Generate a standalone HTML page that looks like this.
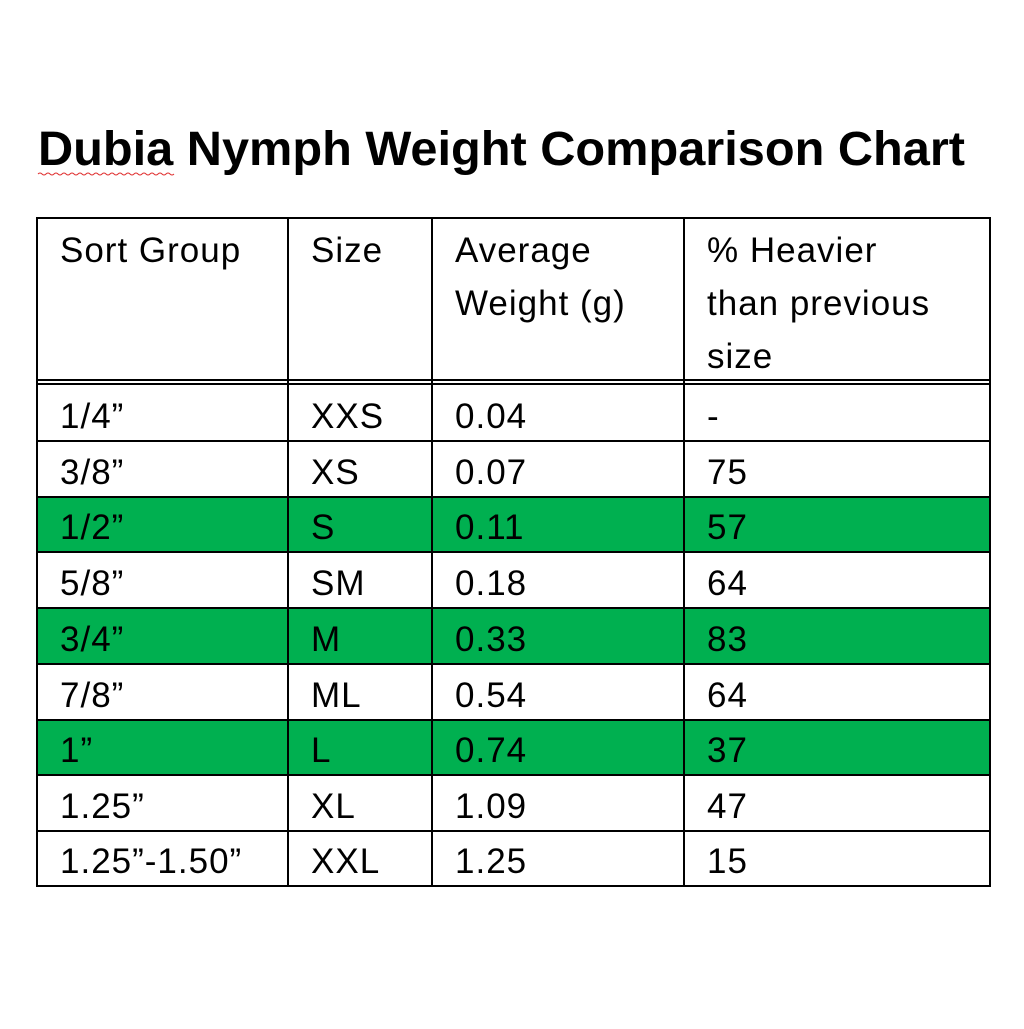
<!DOCTYPE html>
<html><head><meta charset="utf-8"><style>html,body{margin:0;padding:0;background:#fff}</style></head>
<body>
<svg width="1024" height="1024" xmlns="http://www.w3.org/2000/svg" font-family="Liberation Sans, sans-serif">
<rect width="1024" height="1024" fill="#fff"/>
<text x="38" y="165" font-size="48" font-weight="bold" textLength="927" lengthAdjust="spacingAndGlyphs">Dubia Nymph Weight Comparison Chart</text>
<path d="M38 174 q2 -2 4 0 t4 0 t4 0 t4 0 t4 0 t4 0 t4 0 t4 0 t4 0 t4 0 t4 0 t4 0 t4 0 t4 0 t4 0 t4 0 t4 0 t4 0 t4 0 t4 0 t4 0 t4 0 t4 0 t4 0 t4 0 t4 0 t4 0 t4 0 t4 0 t4 0 t4 0 t4 0 t4 0 t4 0" fill="none" stroke="#e03030" stroke-width="1"/>
<rect x="37" y="497" width="953" height="55" fill="#00B050"/>
<rect x="37" y="608" width="953" height="56" fill="#00B050"/>
<rect x="37" y="720" width="953" height="55" fill="#00B050"/>
<g stroke="#000" stroke-width="2">
<line x1="37" y1="218" x2="991" y2="218"/>
<line x1="37" y1="380" x2="991" y2="380"/>
<line x1="37" y1="384" x2="991" y2="384"/>
<line x1="37" y1="441" x2="991" y2="441"/>
<line x1="37" y1="497" x2="991" y2="497"/>
<line x1="37" y1="552" x2="991" y2="552"/>
<line x1="37" y1="608" x2="991" y2="608"/>
<line x1="37" y1="664" x2="991" y2="664"/>
<line x1="37" y1="720" x2="991" y2="720"/>
<line x1="37" y1="775" x2="991" y2="775"/>
<line x1="37" y1="831" x2="991" y2="831"/>
<line x1="37" y1="886" x2="991" y2="886"/>
<line x1="37" y1="217" x2="37" y2="887"/>
<line x1="288" y1="217" x2="288" y2="887"/>
<line x1="432" y1="217" x2="432" y2="887"/>
<line x1="684" y1="217" x2="684" y2="887"/>
<line x1="990" y1="217" x2="990" y2="887"/>
</g>
<g font-size="35" fill="#000" letter-spacing="1">
<text x="60" y="262">Sort Group</text>
<text x="311" y="262">Size</text>
<text x="455" y="262">Average</text>
<text x="455" y="315">Weight (g)</text>
<text x="707" y="262">% Heavier</text>
<text x="707" y="315">than previous</text>
<text x="707" y="368">size</text>

<text x="60" y="428">1/4”</text><text x="311" y="428">XXS</text><text x="455" y="428">0.04</text><text x="707" y="428">-</text>
<text x="60" y="484">3/8”</text><text x="311" y="484">XS</text><text x="455" y="484">0.07</text><text x="707" y="484">75</text>
<text x="60" y="539">1/2”</text><text x="311" y="539">S</text><text x="455" y="539">0.11</text><text x="707" y="539">57</text>
<text x="60" y="595">5/8”</text><text x="311" y="595">SM</text><text x="455" y="595">0.18</text><text x="707" y="595">64</text>
<text x="60" y="651">3/4”</text><text x="311" y="651">M</text><text x="455" y="651">0.33</text><text x="707" y="651">83</text>
<text x="60" y="707">7/8”</text><text x="311" y="707">ML</text><text x="455" y="707">0.54</text><text x="707" y="707">64</text>
<text x="60" y="762">1”</text><text x="311" y="762">L</text><text x="455" y="762">0.74</text><text x="707" y="762">37</text>
<text x="60" y="818">1.25”</text><text x="311" y="818">XL</text><text x="455" y="818">1.09</text><text x="707" y="818">47</text>
<text x="60" y="873">1.25”-1.50”</text><text x="311" y="873">XXL</text><text x="455" y="873">1.25</text><text x="707" y="873">15</text>
</g>
</svg>
</body></html>
